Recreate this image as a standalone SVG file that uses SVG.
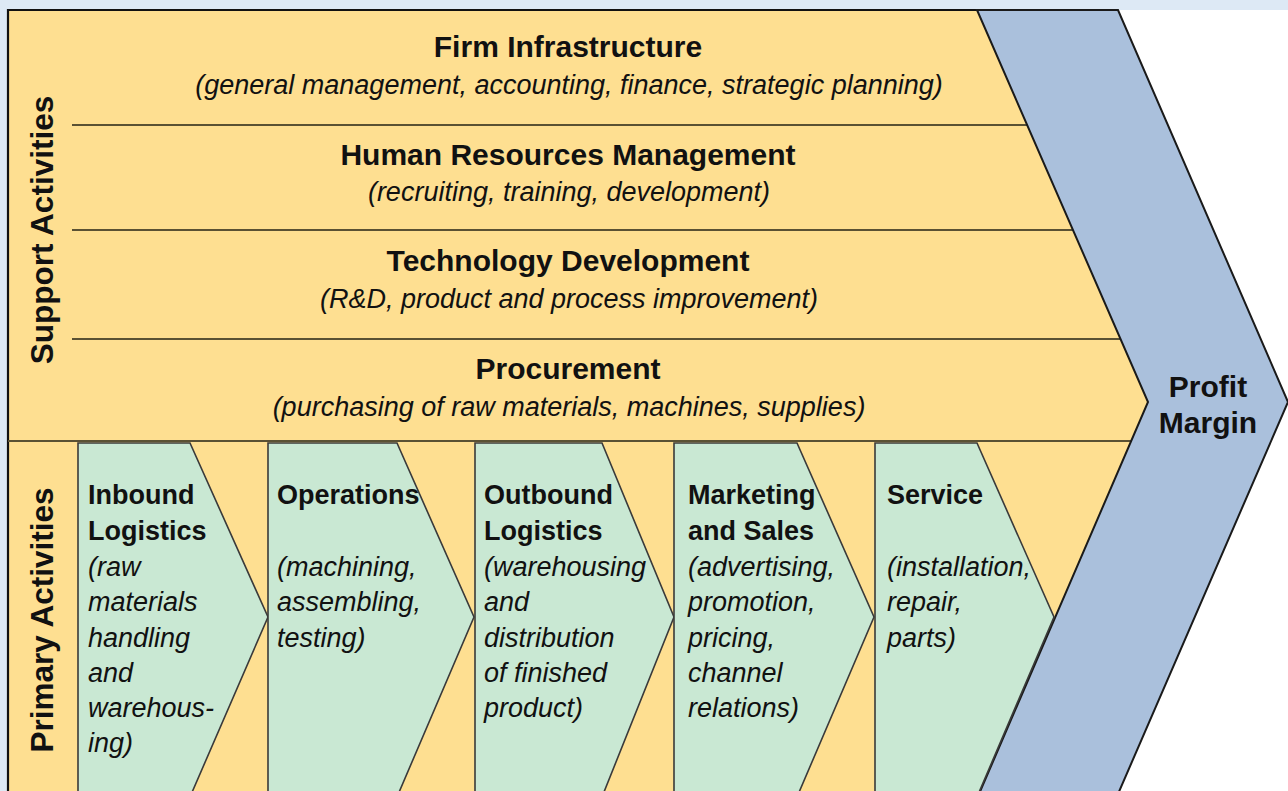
<svg xmlns="http://www.w3.org/2000/svg" width="1288" height="791" viewBox="0 0 1288 791">
<style>
.bg{fill:#ffffff}
.sup{fill:#fedf91}
.pm{fill:#aac0dc;stroke:#1a1a1a;stroke-width:2;stroke-linejoin:miter}
.pa{fill:#c9e8d3;stroke:#3a3a3a;stroke-width:1.6}
.div{stroke:#5a5133;stroke-width:2}
.t{font-family:"Liberation Sans",Arial,Helvetica,sans-serif;fill:#111}
.h{font-weight:bold;font-size:30px}
.s{font-style:italic;font-size:27px}
.ph{font-weight:bold;font-size:27px}
.ps{font-style:italic;font-size:27px}
.v{font-weight:bold;font-size:31.5px}
</style>
<rect x="0" y="0" width="1288" height="791" fill="#dde9f5"/>
<rect x="1118" y="10" width="170" height="781" class="bg"/>
<g id="frame">
<polygon class="sup" points="8,10 978,10 1148,402 979,794 8,794"/>
<polyline points="8,794 8,10 978,10" fill="none" stroke="#111" stroke-width="2.2"/>
</g>
<g id="connectors">
<line class="div" x1="72" y1="125" x2="1027" y2="125"/>
<line class="div" x1="72" y1="230" x2="1073" y2="230"/>
<line class="div" x1="72" y1="339" x2="1121" y2="339"/>
<line class="div" x1="8" y1="441" x2="1131" y2="441"/>
</g>
<g id="profit-margin">
<polygon class="pm" points="977,10 1118,10 1288,402 1118,794 979,794 1148,402"/>
<text class="t h" x="1208" y="397" text-anchor="middle">Profit</text>
<text class="t h" x="1208" y="433" text-anchor="middle">Margin</text>
</g>
<g id="support-label">
<text class="t v" transform="translate(53,230) rotate(-90)" text-anchor="middle">Support Activities</text>
</g>
<g id="primary-label">
<text class="t v" transform="translate(53,620) rotate(-90)" text-anchor="middle">Primary Activities</text>
</g>
<g id="firm-infrastructure">
<text class="t h" x="568" y="57" text-anchor="middle">Firm Infrastructure</text>
<text class="t s" x="569" y="94" text-anchor="middle">(general management, accounting, finance, strategic planning)</text>
</g>
<g id="hrm">
<text class="t h" x="568" y="165" text-anchor="middle">Human Resources Management</text>
<text class="t s" x="569" y="201" text-anchor="middle">(recruiting, training, development)</text>
</g>
<g id="technology">
<text class="t h" x="568" y="271" text-anchor="middle">Technology Development</text>
<text class="t s" x="569" y="308" text-anchor="middle">(R&amp;D, product and process improvement)</text>
</g>
<g id="procurement">
<text class="t h" x="568" y="379" text-anchor="middle">Procurement</text>
<text class="t s" x="569" y="416" text-anchor="middle">(purchasing of raw materials, machines, supplies)</text>
</g>
<g id="inbound">
<polygon class="pa" points="78,443 190,443 268,617 190,797 78,797"/>
<text class="t ph" x="88" y="504">Inbound</text>
<text class="t ph" x="88" y="540">Logistics</text>
<text class="t ps" x="88" y="576">(raw</text>
<text class="t ps" x="88" y="611">materials</text>
<text class="t ps" x="88" y="647">handling</text>
<text class="t ps" x="88" y="682">and</text>
<text class="t ps" x="88" y="717">warehous-</text>
<text class="t ps" x="88" y="752">ing)</text>
</g>
<g id="operations">
<polygon class="pa" points="268,443 397,443 474,617 397,797 268,797"/>
<text class="t ph" x="277" y="504">Operations</text>
<text class="t ps" x="277" y="576">(machining,</text>
<text class="t ps" x="277" y="611">assembling,</text>
<text class="t ps" x="277" y="647">testing)</text>
</g>
<g id="outbound">
<polygon class="pa" points="475,443 602,443 674,617 602,797 475,797"/>
<text class="t ph" x="484" y="504">Outbound</text>
<text class="t ph" x="484" y="540">Logistics</text>
<text class="t ps" x="484" y="576">(warehousing</text>
<text class="t ps" x="484" y="611">and</text>
<text class="t ps" x="484" y="647">distribution</text>
<text class="t ps" x="484" y="682">of finished</text>
<text class="t ps" x="484" y="717">product)</text>
</g>
<g id="marketing">
<polygon class="pa" points="674,443 797,443 874,617 797,797 674,797"/>
<text class="t ph" x="688" y="504">Marketing</text>
<text class="t ph" x="688" y="540">and Sales</text>
<text class="t ps" x="688" y="576">(advertising,</text>
<text class="t ps" x="688" y="611">promotion,</text>
<text class="t ps" x="688" y="647">pricing,</text>
<text class="t ps" x="688" y="682">channel</text>
<text class="t ps" x="688" y="717">relations)</text>
</g>
<g id="service">
<polygon class="pa" points="875,443 977,443 1054,617 977,797 875,797"/>
<text class="t ph" x="887" y="504">Service</text>
<text class="t ps" x="887" y="576">(installation,</text>
<text class="t ps" x="887" y="611">repair,</text>
<text class="t ps" x="887" y="647">parts)</text>
</g>
</svg>
